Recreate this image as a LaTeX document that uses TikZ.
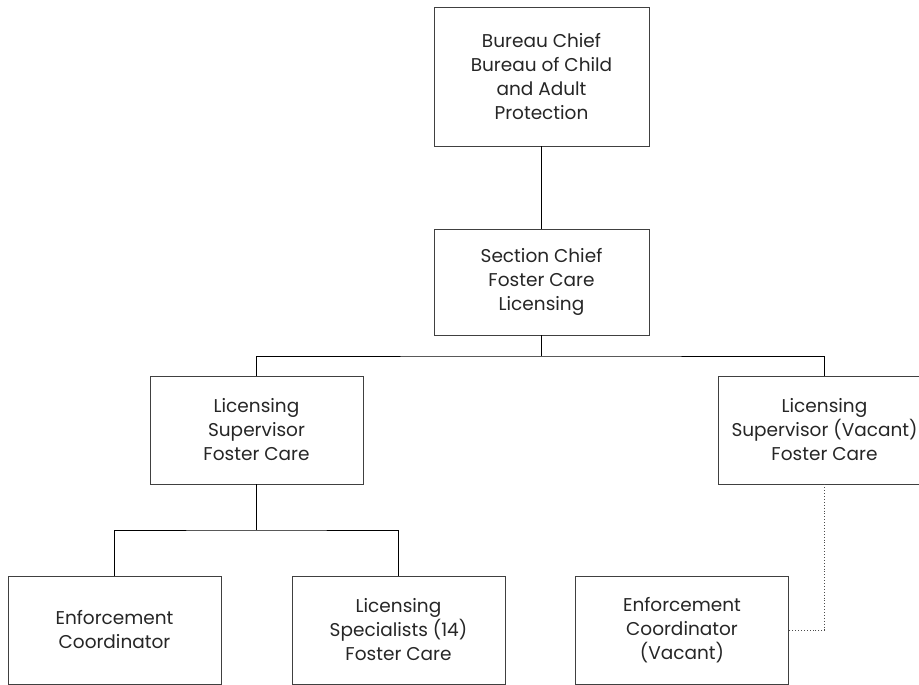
\documentclass[tikz,border=0pt]{standalone}
\usepackage{fontspec}
\setmainfont{Poppins}
\begin{document}
\begin{tikzpicture}[x=1pt,y=-1pt,
  box/.style={draw=black!75, line width=0.9pt, fill=white, align=center,
    minimum width=213pt, minimum height=108pt, inner sep=0pt,
    text=black!85, font=\fontsize{18.5}{24}\selectfont},
  link/.style={draw=black, line width=0.9pt},
  vacantlink/.style={draw=black!70, line width=0.9pt, dotted}]
\useasboundingbox (0,0) rectangle (919,685);
\clip (0,0) rectangle (919,685);

% top levels
\node[box, minimum width=215pt, minimum height=139pt] (chief) at (541.5,76.5)
  {Bureau Chief\\Bureau of Child\\and Adult\\Protection};
\node[box, minimum width=215pt, minimum height=106pt] (section) at (541.5,282)
  {Section Chief\\Foster Care\\Licensing};

% supervisors
\node[box] (supL) at (256.5,430) {Licensing\\Supervisor\\Foster Care};
\node[box] (supR) at (824.5,430) {Licensing\\Supervisor (Vacant)\\Foster Care};

% staff
\node[box] (enfL) at (114.5,630) {Enforcement\\Coordinator};
\node[box] (spec) at (398.5,630) {Licensing\\Specialists (14)\\Foster Care};
\node[box] (enfR) at (682,630) {Enforcement\\Coordinator\\(Vacant)};

% reporting lines
\coordinate (busA) at (541.5,356);
\coordinate (busB) at (256.5,530);
\draw[link] (chief.south) -- (section.north);
\draw[link] (section.south) -- (busA);
\draw[link] (supL.north) |- (busA) -| (supR.north);
\draw[link] (supL.south) -- (busB);
\draw[link] (enfL.north) |- (busB) -| (spec.north);
\draw[vacantlink] (supR.south) |- (enfR.east);
\end{tikzpicture}
\end{document}
